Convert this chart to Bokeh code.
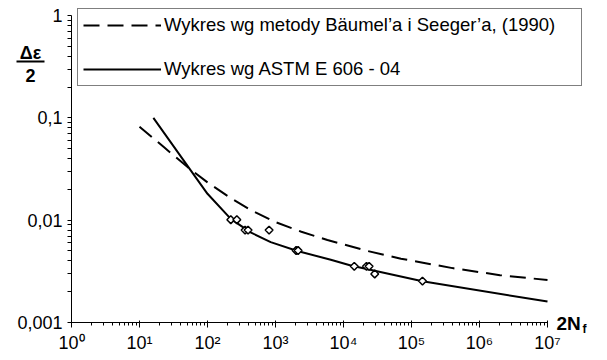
from bokeh.plotting import figure
from bokeh.models import (FixedTicker, Legend, LegendItem, Label, BoxAnnotation,
                          Range1d, LogAxis)
from bokeh.embed import file_html
from bokeh.resources import INLINE

# ---- data ----
baumel_N = [10, 23, 51, 100, 220, 430, 950, 2400, 5800, 22500, 70000, 400000, 2000000, 10000000]
baumel_eps = [0.082, 0.0515, 0.033, 0.0234, 0.0164, 0.0126, 0.0097, 0.0077, 0.0064, 0.0050, 0.0042, 0.0034, 0.0029, 0.0026]

astm_N = [16, 57, 100, 220, 430, 850, 2100, 6500, 12800, 145000, 10000000]
astm_eps = [0.1, 0.0305, 0.0181, 0.0103, 0.0076, 0.0061, 0.0050, 0.0041, 0.0036, 0.00253, 0.0016]

exp_N = [220, 270, 357, 395, 805, 2010, 2150, 14400, 21800, 23800, 28800, 145000]
exp_eps = [0.0101, 0.0101, 0.0080, 0.0080, 0.0080, 0.00505, 0.00505, 0.00354, 0.00354, 0.00354, 0.00298, 0.00254]

x_ticks = [1, 10, 100, 1000, 10000, 100000, 1000000, 10000000]
x_tick_labels = ["10⁰", "10¹", "10²", "10³", "10⁴", "10⁵", "10⁶", "10⁷"]
y_ticks = [0.001, 0.01, 0.1, 1]
y_tick_labels = ["0,001", "0,01", "0,1", "1"]

legend_labels = ["Wykres wg metody Bäumel’a i Seeger’a, (1990)", "Wykres wg ASTM E 606 - 04"]

FONT = "Liberation Sans"
W, H = 607, 360
# plot-area placement in the 607x360 page (pixels)
PX_LEFT, PX_RIGHT, PX_TOP, PX_BOTTOM = 71, 547, 15, 322

# the frame covers the whole page; ranges are widened so that the data box
# [1, 1e7] x [0.001, 1] lands on the plot area above
dec_x = (PX_RIGHT - PX_LEFT) / 7.0
dec_y = (PX_BOTTOM - PX_TOP) / 3.0
x_lo = 10 ** (0 - PX_LEFT / dec_x)
x_hi = 10 ** (7 + (W - PX_RIGHT) / dec_x)
y_hi = 10 ** (0 + PX_TOP / dec_y)
y_lo = 10 ** (-3 - (H - PX_BOTTOM) / dec_y)

p = figure(width=W, height=H, x_axis_type="log", y_axis_type="log",
           x_range=Range1d(x_lo, x_hi), y_range=Range1d(y_lo, y_hi),
           x_axis_location=None, y_axis_location=None,
           output_backend="svg", toolbar_location=None,
           min_border=0, min_border_left=0, min_border_right=0,
           min_border_top=0, min_border_bottom=0)
p.center = []
p.outline_line_color = None
p.background_fill_color = "white"
p.border_fill_color = "white"

x_minor = [k * 10 ** d for d in range(0, 7) for k in range(2, 10)]
y_minor = [k * 10.0 ** d for d in range(-3, 0) for k in range(2, 10)]

xaxis = LogAxis(fixed_location=0.001, bounds=(1, 1e7),
                ticker=FixedTicker(ticks=x_ticks, minor_ticks=x_minor),
                major_label_overrides=dict(zip(x_ticks, x_tick_labels)))
yaxis = LogAxis(fixed_location=1, bounds=(0.001, 1),
                ticker=FixedTicker(ticks=y_ticks, minor_ticks=y_minor),
                major_label_overrides=dict(zip(y_ticks, y_tick_labels)))

for ax in (xaxis, yaxis):
    ax.axis_line_color = "black"
    ax.major_tick_line_color = "black"
    ax.minor_tick_line_color = "black"
    ax.major_label_text_font = FONT
    ax.major_label_text_font_size = "18px"
    ax.major_label_text_color = "black"
    ax.major_label_standoff = 5

xaxis.major_tick_in = 2
xaxis.major_tick_out = 5
xaxis.minor_tick_in = 0
xaxis.minor_tick_out = 3
yaxis.major_tick_in = 0
yaxis.major_tick_out = 4
yaxis.minor_tick_in = 0
yaxis.minor_tick_out = 4

p.add_layout(xaxis, "below")
p.add_layout(yaxis, "left")

r_b = p.line(baumel_N, baumel_eps, line_color="black", line_width=2, line_dash="16 8")
r_a = p.line(astm_N, astm_eps, line_color="black", line_width=2)
p.scatter(exp_N, exp_eps, marker="square", angle=0.785398, size=5.5,
          fill_color="white", line_color="black", line_width=1.5)

legend = Legend(items=[LegendItem(label=legend_labels[0], renderers=[r_b]),
                       LegendItem(label=legend_labels[1], renderers=[r_a])],
                location=(77, H - 86), orientation="vertical",
                border_line_color="black", border_line_width=1,
                background_fill_color="white", background_fill_alpha=1.0,
                padding=5, spacing=22, glyph_width=78, glyph_height=20,
                label_height=20, label_standoff=3, label_width=412, margin=0,
                label_text_font=FONT, label_text_font_size="18.5px", label_text_color="black")
p.add_layout(legend, "center")

# y-axis label written as a fraction (screen units: from page left / page bottom)
p.add_layout(Label(x=30, y=H - 52, x_units="screen", y_units="screen", text="Δε",
                   text_font=FONT, text_font_size="18px", text_font_style="bold",
                   text_align="center", text_baseline="middle", text_color="black"))
p.add_layout(BoxAnnotation(left=16, right=44, top=H - 60, bottom=H - 62,
                           left_units="screen", right_units="screen",
                           top_units="screen", bottom_units="screen",
                           fill_color="black", fill_alpha=1.0, line_color=None))
p.add_layout(Label(x=30, y=H - 75, x_units="screen", y_units="screen", text="2",
                   text_font=FONT, text_font_size="18px", text_font_style="bold",
                   text_align="center", text_baseline="middle", text_color="black"))

# x-axis label 2N_f
p.add_layout(Label(x=556, y=H - 323, x_units="screen", y_units="screen", text="2N",
                   text_font=FONT, text_font_size="19px", text_font_style="bold",
                   text_align="left", text_baseline="middle", text_color="black"))
p.add_layout(Label(x=582, y=H - 328, x_units="screen", y_units="screen", text="f",
                   text_font=FONT, text_font_size="12px", text_font_style="bold",
                   text_align="left", text_baseline="middle", text_color="black"))

open("out.html", "w").write(file_html(p, INLINE))
